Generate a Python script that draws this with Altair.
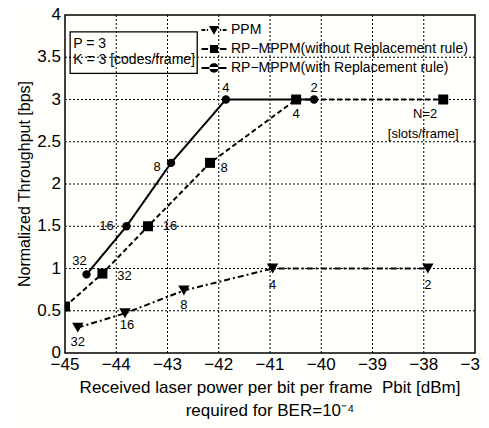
import altair as alt
import pandas as pd

FONT = "Liberation Sans"
BG = "#fffffb"

series_names = ["PPM", "RP\u2212MPPM(without Replacement rule)", "RP\u2212MPPM(with Replacement rule)"]

# PPM (triangles)
ppm_x = [-44.75, -43.83, -42.68, -40.95, -37.92]
ppm_y = [0.30, 0.47, 0.74, 1.0, 1.0]
ppm_lbl = ["32", "16", "8", "4", "2"]
ppm_dx = [0, 2, 0, 0, 0]
ppm_dy = [14, 12, 15, 16, 16]

# RP-MPPM without replacement rule (squares)
wo_x = [-45.0, -44.27, -43.38, -42.17, -40.49, -37.62]
wo_y = [0.55, 0.94, 1.5, 2.25, 3.0, 3.0]
wo_lbl = ["", "32", "16", "8", "4", "N=2"]
wo_dx = [0, 22, 22, 14, 0, -18]
wo_dy = [0, 2, 0, 5, 14, 14]

# RP-MPPM with replacement rule (circles)
w_x = [-44.58, -43.80, -42.93, -41.86, -40.14]
w_y = [0.93, 1.5, 2.25, 3.0, 3.0]
w_lbl = ["32", "16", "8", "4", "2"]
w_dx = [-7, -20, -14, 0, 0]
w_dy = [-13, 0, 4, -12, -12]

# extra annotation
unit_x = [-37.62]
unit_y = [3.0]
unit_lbl = ["[slots/frame]"]
unit_dx = [-20]
unit_dy = [34]

# parameter box
box_x = [-44.90]
box_x2 = [-42.42]
box_y = [3.31]
box_y2 = [3.80]
box_text_x = [-44.84, -44.84]
box_text_y = [3.66, 3.47]
box_text = ["P = 3", "K = 3 [codes/frame]"]

# axes: ticks, tick labels and titles
x_ticks = [-45, -44, -43, -42, -41, -40, -39, -38, -37]
x_tick_labels = ["\u221245", "\u221244", "\u221243", "\u221242", "\u221241",
                 "\u221240", "\u221239", "\u221238", "\u221237"]
y_ticks = [0, 0.5, 1, 1.5, 2, 2.5, 3, 3.5, 4]
y_tick_labels = ["0", "0.5", "1", "1.5", "2", "2.5", "3", "3.5", "4"]
x_title = ["Received laser power per bit per frame\u00a0\u00a0Pbit [dBm]", "required for BER=10\u207b\u2074"]
x_title_at = [-41.0]
x_title_dy = [35, 58]
y_title = ["Normalized Throughput [bps]"]
y_title_at_x = [-45.78]
y_title_at_y = [2.0]

rows = []
for name, xs_, ys_, ls, dxs, dys in [
    (series_names[0], ppm_x, ppm_y, ppm_lbl, ppm_dx, ppm_dy),
    (series_names[1], wo_x, wo_y, wo_lbl, wo_dx, wo_dy),
    (series_names[2], w_x, w_y, w_lbl, w_dx, w_dy),
]:
    for i, (x, y, l, dx, dy) in enumerate(zip(xs_, ys_, ls, dxs, dys)):
        rows.append(dict(series=name, x=x, y=y, label=l, dx=dx, dy=dy, order=i))
df = pd.DataFrame(rows)

lbl_df = pd.concat([
    df[df["label"] != ""][["x", "y", "label", "dx", "dy"]],
    pd.DataFrame(dict(x=unit_x, y=unit_y, label=unit_lbl, dx=unit_dx, dy=unit_dy)),
]).reset_index(drop=True)

xs = alt.Scale(domain=[x_ticks[0], x_ticks[-1]], nice=False)
ys = alt.Scale(domain=[y_ticks[0], y_ticks[-1]], nice=False)

X = alt.X("x:Q", scale=xs, axis=None)
Y = alt.Y("y:Q", scale=ys, axis=None)

# dotted grid lines at the interior ticks
vgrid_df = pd.DataFrame(dict(x=x_ticks[1:-1], y=[y_ticks[0]] * 7, y2=[y_ticks[-1]] * 7))
hgrid_df = pd.DataFrame(dict(y=y_ticks[1:-1], x=[x_ticks[0]] * 7, x2=[x_ticks[-1]] * 7))
vgrid = alt.Chart(vgrid_df).mark_rule(color="black", strokeWidth=1, strokeDash=[2, 2]).encode(
    x=X, y=Y, y2="y2:Q")
hgrid = alt.Chart(hgrid_df).mark_rule(color="black", strokeWidth=1, strokeDash=[2, 2]).encode(
    y=Y, x=X, x2="x2:Q")

dash_range = [[6, 3, 2, 3], [5, 3], [1, 0]]
shape_range = ["triangle-down", "square", "circle"]

lines = alt.Chart(df).mark_line(color="black", strokeWidth=2).encode(
    x=X, y=Y, order="order:Q",
    strokeDash=alt.StrokeDash("series:N", scale=alt.Scale(domain=series_names, range=dash_range), legend=None),
    detail="series:N",
)

points = alt.Chart(df).mark_point(filled=True, color="black", opacity=1, clip=True).encode(
    x=X, y=Y,
    shape=alt.Shape("series:N", scale=alt.Scale(domain=series_names, range=shape_range), legend=None),
    size=alt.Size("series:N", scale=alt.Scale(domain=series_names, range=[130, 70, 100]), legend=None),
)

T = 0.15  # half thickness of the legend line (in symbol units)


def seg(a, b):
    return f"M{a},{-T}L{b},{-T}L{b},{T}L{a},{T}Z"


legend_paths = [
    seg(-2, -1.4) + seg(-1.15, -0.95) + "M-0.8,-0.65L0.8,-0.65L0,0.75Z" + seg(0.95, 1.15) + seg(1.4, 2),
    seg(-2, -0.95) + "M-0.65,-0.65L0.65,-0.65L0.65,0.65L-0.65,0.65Z" + seg(0.95, 2),
    seg(-2, 2) + "M-0.75,0A0.75,0.75,0,1,0,0.75,0A0.75,0.75,0,1,0,-0.75,0Z",
]
leg = alt.Legend(
    title=None, orient="none", legendX=142, legendY=8,
    labelFont=FONT, labelFontSize=14, labelColor="black",
    symbolSize=156, symbolFillColor="black", symbolStrokeWidth=0,
    symbolOpacity=1, labelOffset=10, rowPadding=5, padding=0,
    labelLimit=400,
)
legend_layer = alt.Chart(df).transform_filter("false").mark_point(
    filled=True, color="black", opacity=1
).encode(
    x=X, y=Y,
    shape=alt.Shape("series:N", scale=alt.Scale(domain=series_names, range=legend_paths), legend=leg),
)

label_layers = []
for i, r in lbl_df.iterrows():
    label_layers.append(
        alt.Chart(lbl_df.iloc[[i]]).mark_text(
            font=FONT, fontSize=13, color="black", baseline="middle", align="center",
            dx=int(r["dx"]), dy=int(r["dy"])
        ).encode(x=X, y=Y, text="label:N")
    )

box = alt.Chart(pd.DataFrame(dict(x=box_x, x2=box_x2, y=box_y, y2=box_y2))).mark_rect(
    fill=None, fillOpacity=0, stroke="black", strokeWidth=1.3
).encode(x=X, x2="x2:Q", y=Y, y2="y2:Q")

box_txt = alt.Chart(pd.DataFrame(dict(x=box_text_x, y=box_text_y, t=box_text))).mark_text(
    font=FONT, fontSize=14, color="black", align="left", baseline="middle"
).encode(x=X, y=Y, text="t:N")

# axis tick labels and titles
xlab = alt.Chart(pd.DataFrame(dict(x=x_ticks, y=[y_ticks[0]] * len(x_ticks), t=x_tick_labels))).mark_text(
    font=FONT, fontSize=17, color="black", align="center", baseline="top", dy=4
).encode(x=X, y=Y, text="t:N")
ylab = alt.Chart(pd.DataFrame(dict(x=[x_ticks[0]] * len(y_ticks), y=y_ticks, t=y_tick_labels))).mark_text(
    font=FONT, fontSize=17, color="black", align="right", baseline="middle", dx=-4
).encode(x=X, y=Y, text="t:N")
xtitle_layers = [
    alt.Chart(pd.DataFrame(dict(x=x_title_at, y=[y_ticks[0]], t=[x_title[k]]))).mark_text(
        font=FONT, fontSize=17, color="black", align="center", baseline="middle", dy=x_title_dy[k]
    ).encode(x=X, y=Y, text="t:N")
    for k in range(2)
]
ytitle = alt.Chart(pd.DataFrame(dict(x=y_title_at_x, y=y_title_at_y, t=y_title))).mark_text(
    font=FONT, fontSize=16, color="black", align="center", baseline="middle", angle=270
).encode(x=X, y=Y, text="t:N")

chart = alt.layer(
    lines, points, legend_layer, *label_layers, box, box_txt,
    xlab, ylab, *xtitle_layers, ytitle, vgrid, hgrid
).resolve_scale(
    shape="independent", strokeDash="independent", size="independent"
).properties(
    width=410, height=338, background=BG,
    autosize=alt.AutoSizeParams(type="none"),
    padding={"left": 57, "top": 7, "right": 6, "bottom": 75},
).configure_view(stroke="black", strokeWidth=1.5)

chart.save("out.html", embed_options={"renderer": "svg", "actions": False})
